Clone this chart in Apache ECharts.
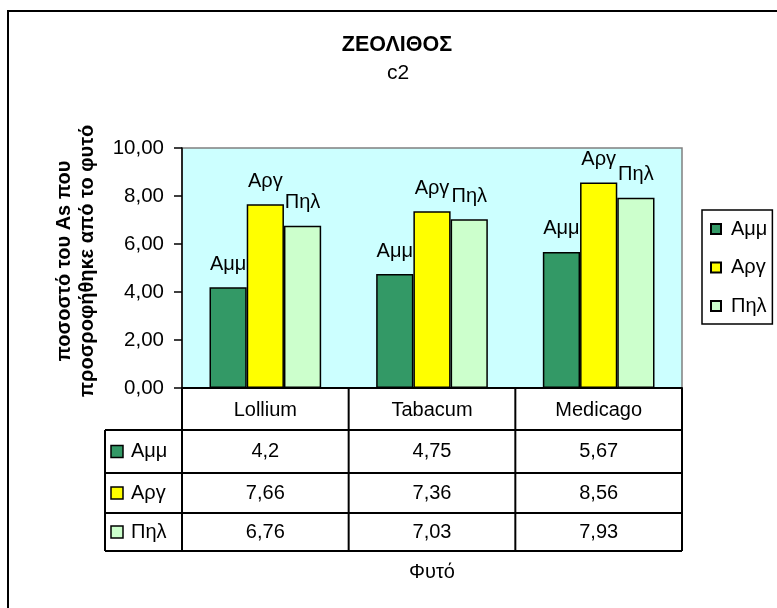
<!DOCTYPE html>
<html>
<head>
<meta charset="utf-8">
<script src="https://cdn.jsdelivr.net/npm/echarts@6/dist/echarts.min.js"></script>
<style>
  html, body { margin: 0; padding: 0; background: #fff; }
  #chart { width: 777px; height: 608px; }
</style>
</head>
<body>
<div id="chart"></div>
<script>
// Plant species (categories) and the three soil series
const categories = ['Lollium', 'Tabacum', 'Medicago'];
const seriesNames = ['Αμμ', 'Αργ', 'Πηλ'];
const ammValues = [4.2, 4.75, 5.67];
const argValues = [7.66, 7.36, 8.56];
const pilValues = [6.76, 7.03, 7.93];
const yTicks = [0, 2, 4, 6, 8, 10];

const seriesValues = [ammValues, argValues, pilValues];
const seriesColors = ['#339966', '#FFFF00', '#CCFFCC'];
const FONT = '"Liberation Sans", Arial, sans-serif';
const FS = 20;

// Plot area and data-table layout
const G = { left: 182, top: 148, width: 500, height: 240 };
const rowLines = [388, 430, 473, 513, 551]; // category row + three data rows
const keyColLeft = 105;

const comma = v => String(v).replace('.', ',');

const chart = echarts.init(document.getElementById('chart'), null, { renderer: 'canvas' });

const option = {
  animation: false,
  backgroundColor: '#ffffff',
  textStyle: { fontFamily: FONT },
  title: [
    { text: 'ΖΕΟΛΙΘΟΣ', left: 397, top: 34, textAlign: 'center', padding: 0,
      textStyle: { fontFamily: FONT, fontSize: 21.5, fontWeight: 'bold', color: '#000' } },
    { text: 'c2', left: 398, top: 63, textAlign: 'center', padding: 0,
      textStyle: { fontFamily: FONT, fontSize: 21, fontWeight: 'normal', color: '#000' } }
  ],
  legend: {
    orient: 'vertical',
    left: 702, top: 210,
    padding: [9, 5, 8, 8],
    borderColor: '#000', borderWidth: 1.5, backgroundColor: '#fff',
    itemWidth: 10, itemHeight: 10, itemGap: 18.5,
    icon: 'rect',
    textStyle: { fontFamily: FONT, fontSize: FS, color: '#000', lineHeight: 20, padding: [0, 0, 0, 5] },
    data: seriesNames
  },
  grid: Object.assign({ show: true, backgroundColor: '#CCFFFF', borderColor: '#808080', borderWidth: 1.5 }, G),
  xAxis: {
    type: 'category',
    data: categories,
    axisLine: { lineStyle: { color: '#000', width: 2 } },
    axisTick: { show: false },
    axisLabel: { margin: 12, fontFamily: FONT, fontSize: FS, color: '#000' }
  },
  yAxis: {
    type: 'value',
    min: yTicks[0], max: yTicks[yTicks.length - 1], interval: yTicks[1] - yTicks[0],
    axisLine: { show: true, lineStyle: { color: '#000', width: 1.5 } },
    axisTick: { show: true, length: 8, lineStyle: { color: '#000', width: 1.5 } },
    splitLine: { show: false },
    axisLabel: { margin: 18, fontFamily: FONT, fontSize: FS + 0.5, color: '#000',
      formatter: v => v.toFixed(2).replace('.', ',') }
  },
  series: seriesNames.map((name, i) => ({
    name: name,
    type: 'bar',
    data: seriesValues[i],
    barGap: '0%',
    barCategoryGap: '33%',
    itemStyle: { color: seriesColors[i], borderColor: '#000', borderWidth: 1.5 },
    label: { show: true, position: 'top', distance: 13, formatter: '{a}',
      fontFamily: FONT, fontSize: FS, color: '#000' }
  }))
};

chart.setOption(option);

// Data table under the plot, aligned with the category axis
const right = G.left + G.width;
const bottom = rowLines[rowLines.length - 1];
const gfx = [];
const line = (x1, y1, x2, y2) => gfx.push({
  type: 'line', silent: true,
  shape: { x1, y1, x2, y2 },
  style: { stroke: '#000', lineWidth: 2 }
});

// outer chart frame
gfx.push({ type: 'rect', silent: true, shape: { x: 8, y: 11, width: 900, height: 800 },
  style: { fill: 'none', stroke: '#000', lineWidth: 2 } });

// horizontal row lines
for (let r = 1; r < rowLines.length; r++) line(keyColLeft, rowLines[r], right, rowLines[r]);
// vertical lines
line(keyColLeft, rowLines[1], keyColLeft, bottom);
line(G.left, G.top + G.height, G.left, bottom);
line(right, G.top + G.height, right, bottom);
const catW = G.width / categories.length;
for (let c = 1; c < categories.length; c++) {
  const x = G.left + c * catW;
  line(x, rowLines[0], x, bottom);
}

// series keys and values
seriesNames.forEach((name, i) => {
  const cy = (rowLines[i + 1] + rowLines[i + 2]) / 2;
  gfx.push({ type: 'rect', silent: true, shape: { x: 111, y: cy - 6, width: 12, height: 12 },
    style: { fill: seriesColors[i], stroke: '#000', lineWidth: 1.5 } });
  gfx.push({ type: 'text', silent: true, x: 131, y: cy,
    style: { text: name, font: FS + 'px ' + FONT, fill: '#000', textAlign: 'left', textVerticalAlign: 'middle' } });
  categories.forEach((cat, j) => {
    const cx = chart.convertToPixel({ xAxisIndex: 0 }, cat);
    gfx.push({ type: 'text', silent: true, x: cx, y: cy,
      style: { text: comma(seriesValues[i][j]), font: FS + 'px ' + FONT, fill: '#000',
        textAlign: 'center', textVerticalAlign: 'middle' } });
  });
});

// axis titles
gfx.push({ type: 'text', silent: true, x: G.left + G.width / 2, y: 572,
  style: { text: 'Φυτό', font: FS + 'px ' + FONT, fill: '#000', textAlign: 'center', textVerticalAlign: 'middle' } });
gfx.push({ type: 'text', silent: true, x: 76, y: 261, rotation: Math.PI / 2,
  style: { text: 'ποσοστό του As που\nπροσροφήθηκε από το φυτό', font: 'bold 20px ' + FONT,
    fill: '#000', textAlign: 'center', textVerticalAlign: 'middle', lineHeight: 23 } });

chart.setOption({ graphic: gfx });
</script>
</body>
</html>
